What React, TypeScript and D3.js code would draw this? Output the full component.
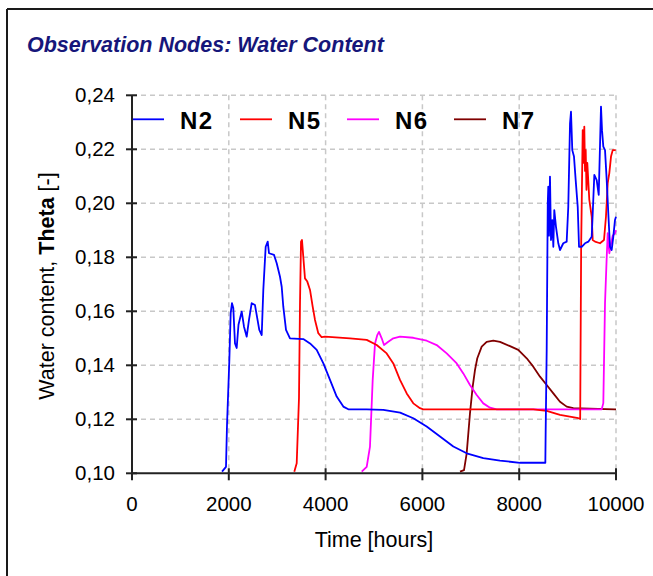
import React from "react";
import * as d3 from "d3";

const seriesNames = ["N2", "N5", "N6", "N7"];
const seriesColors = ["#0000ff", "#ff0000", "#ff00ff", "#800000"];

const timeN2 = [1860, 1942, 1963, 2010, 2039, 2066, 2093, 2128, 2163, 2200, 2267, 2314, 2370, 2417, 2473, 2541, 2630, 2680, 2713, 2762, 2804, 2831, 2934, 2990, 3058, 3093, 3126, 3182, 3264, 3539, 3678, 3816, 3954, 4091, 4229, 4366, 4470, 4849, 5193, 5540, 5812, 6088, 6364, 6639, 6915, 7258, 7603, 8017, 8540, 8547, 8568, 8590, 8601, 8615, 8636, 8657, 8684, 8705, 8725, 8760, 8808, 8843, 8911, 8981, 9014, 9050, 9070, 9097, 9132, 9167, 9209, 9236, 9291, 9360, 9428, 9498, 9519, 9552, 9601, 9643, 9669, 9690, 9711, 9738, 9773, 9808, 9841, 9876, 9911, 9944, 9979, 10000];
const thetaN2 = [0.1006, 0.1024, 0.1179, 0.1413, 0.1593, 0.1630, 0.1612, 0.1481, 0.1464, 0.1550, 0.1599, 0.1543, 0.1506, 0.1568, 0.1630, 0.1623, 0.1531, 0.1512, 0.1679, 0.1839, 0.1858, 0.1815, 0.1809, 0.1778, 0.1728, 0.1691, 0.1617, 0.1531, 0.1500, 0.1497, 0.1481, 0.1457, 0.1407, 0.1346, 0.1284, 0.1247, 0.1237, 0.1237, 0.1235, 0.1225, 0.1204, 0.1173, 0.1136, 0.1099, 0.1074, 0.1056, 0.1047, 0.1039, 0.1039, 0.1160, 0.1457, 0.2000, 0.2062, 0.1880, 0.2099, 0.1864, 0.1938, 0.1839, 0.1975, 0.1913, 0.1852, 0.1827, 0.1852, 0.1858, 0.1987, 0.2296, 0.2339, 0.2197, 0.2173, 0.2086, 0.1987, 0.1839, 0.1839, 0.1852, 0.1858, 0.1876, 0.1963, 0.2105, 0.2086, 0.2031, 0.2210, 0.2358, 0.2271, 0.2210, 0.2197, 0.2086, 0.1963, 0.1839, 0.1827, 0.1876, 0.1938, 0.1950];

const timeN5 = [3353, 3403, 3450, 3471, 3492, 3512, 3539, 3574, 3622, 3678, 3733, 3781, 3849, 3919, 3988, 4504, 4849, 5056, 5262, 5399, 5537, 5676, 5812, 5950, 6018, 8291, 8568, 8843, 9221, 9260, 9280, 9312, 9330, 9345, 9360, 9374, 9390, 9407, 9448, 9498, 9519, 9566, 9669, 9752, 9793, 9829, 9862, 9897, 9932, 9994];
const thetaN5 = [0.1006, 0.1037, 0.1278, 0.1630, 0.1858, 0.1864, 0.1802, 0.1722, 0.1710, 0.1679, 0.1617, 0.1568, 0.1519, 0.1504, 0.1506, 0.1500, 0.1494, 0.1475, 0.1444, 0.1407, 0.1346, 0.1296, 0.1259, 0.1241, 0.1237, 0.1237, 0.1231, 0.1216, 0.1204, 0.1201, 0.1839, 0.2271, 0.2150, 0.2284, 0.2120, 0.2197, 0.2050, 0.2150, 0.2014, 0.1951, 0.1864, 0.1858, 0.1852, 0.1864, 0.1951, 0.2075, 0.2112, 0.2173, 0.2197, 0.2197];

const timeN6 = [4746, 4849, 4917, 4973, 5021, 5068, 5103, 5159, 5207, 5295, 5399, 5537, 5812, 6089, 6295, 6502, 6709, 6845, 6983, 7122, 7258, 7397, 7535, 9705, 9738, 9773, 9808, 9829, 9862, 9897, 9932, 9979, 10000];
const thetaN6 = [0.1006, 0.1024, 0.1099, 0.1346, 0.1481, 0.1512, 0.1524, 0.1500, 0.1475, 0.1487, 0.1500, 0.1506, 0.1502, 0.1491, 0.1475, 0.1444, 0.1407, 0.1370, 0.1327, 0.1290, 0.1259, 0.1243, 0.1237, 0.1237, 0.1260, 0.1630, 0.1800, 0.1889, 0.1815, 0.1850, 0.1880, 0.1889, 0.1900];

const timeN7 = [6777, 6860, 6915, 6983, 7039, 7087, 7134, 7225, 7328, 7465, 7603, 7810, 7981, 8155, 8291, 8430, 8568, 8705, 8843, 8981, 9118, 9979, 10000];
const thetaN7 = [0.1006, 0.1012, 0.1074, 0.1222, 0.1321, 0.1383, 0.1426, 0.1469, 0.1487, 0.1491, 0.1487, 0.1471, 0.1457, 0.1426, 0.1395, 0.1358, 0.1327, 0.1296, 0.1265, 0.1247, 0.1241, 0.1237, 0.1237];

const seriesTimes = [timeN2, timeN5, timeN6, timeN7];
const seriesThetas = [thetaN2, thetaN5, thetaN6, thetaN7];

const xTicks = [0, 2000, 4000, 6000, 8000, 10000];
const yTicks = [0.10, 0.12, 0.14, 0.16, 0.18, 0.20, 0.22, 0.24];

const titleText = "Observation Nodes: Water Content";
const xLabel = "Time [hours]";

export default function App() {
  const W = 653, H = 576;
  const left = 132, right = 616, top = 95.3, bottom = 473.3;
  const x = d3.scaleLinear().domain([0, 10000]).range([left, right]);
  const y = d3.scaleLinear().domain([0.10, 0.24]).range([bottom, top]);
  const fmtY = (v: number) => d3.format(".2f")(v).replace(".", ",");
  const line = d3.line<[number, number]>().x(d => x(d[0])).y(d => y(d[1]));
  const font = "'Liberation Sans', Arial, sans-serif";
  const legendX = [132, 240, 347, 454];

  const order = [3, 2, 1, 0];

  return (
    <svg width={W} height={H} style={{ position: "absolute", left: 0, top: 0, background: "#fff" }} fontFamily={font}>
      <defs>
        <clipPath id="plotclip">
          <rect x={left} y={top - 1} width={right - left + 1} height={bottom - top + 1} />
        </clipPath>
      </defs>
      <rect x={0} y={0} width={W} height={H} fill="#fff" />
      <line x1={7} y1={9} x2={W} y2={9} stroke="#1a1a1a" strokeWidth={2} />
      <line x1={7} y1={9} x2={7} y2={H} stroke="#1a1a1a" strokeWidth={2} />
      <text x={27} y={52} fontSize={21.5} fontWeight="bold" fontStyle="italic" fill="#16167a">{titleText}</text>

      {xTicks.slice(1).map(t => (
        <line key={"gx" + t} x1={x(t)} x2={x(t)} y1={top} y2={bottom} stroke="#c8c8c8" strokeWidth={1.5} strokeDasharray="5,4" />
      ))}
      {yTicks.slice(1).map(t => (
        <line key={"gy" + t} x1={left} x2={right} y1={y(t)} y2={y(t)} stroke="#c8c8c8" strokeWidth={1.5} strokeDasharray="5,4" />
      ))}

      <g clipPath="url(#plotclip)">
        {order.map(i => (
          <path key={seriesNames[i]} d={line(seriesTimes[i].map((t, k) => [t, seriesThetas[i][k]] as [number, number])) || ""}
            fill="none" stroke={seriesColors[i]} strokeWidth={1.8} strokeLinejoin="round" />
        ))}
      </g>

      {seriesNames.map((n, i) => (
        <g key={"lg" + n}>
          <line x1={legendX[i]} x2={legendX[i] + 32} y1={119.3} y2={119.3} stroke={seriesColors[i]} strokeWidth={1.8} />
          <text x={legendX[i] + 48} y={128.5} fontSize={24} fontWeight="bold" letterSpacing={1.5} fill="#000">{n}</text>
        </g>
      ))}

      <line x1={left} x2={left} y1={top} y2={bottom} stroke="#222" strokeWidth={2} />
      <line x1={left} x2={right} y1={bottom} y2={bottom} stroke="#222" strokeWidth={2} />
      {yTicks.map(t => (
        <g key={"yt" + t}>
          <line x1={left - 6} x2={left + 5} y1={y(t)} y2={y(t)} stroke="#222" strokeWidth={2} />
          <text x={115} y={y(t)} dy="0.35em" textAnchor="end" fontSize={20.5} fill="#000">{fmtY(t)}</text>
        </g>
      ))}
      {xTicks.map(t => (
        <g key={"xt" + t}>
          <line x1={x(t)} x2={x(t)} y1={bottom - 5} y2={bottom + 7} stroke="#222" strokeWidth={2} />
          <text x={x(t)} y={511} textAnchor="middle" fontSize={20.5} fill="#000">{t}</text>
        </g>
      ))}
      <text x={374} y={547} textAnchor="middle" fontSize={21.5} fill="#000">{xLabel}</text>
      <text transform="translate(54,286) rotate(-90)" textAnchor="middle" fontSize={21.5} fill="#000">
        <tspan>Water content, </tspan>
        <tspan fontWeight="bold">Theta</tspan>
        <tspan> [-]</tspan>
      </text>
    </svg>
  );
}
